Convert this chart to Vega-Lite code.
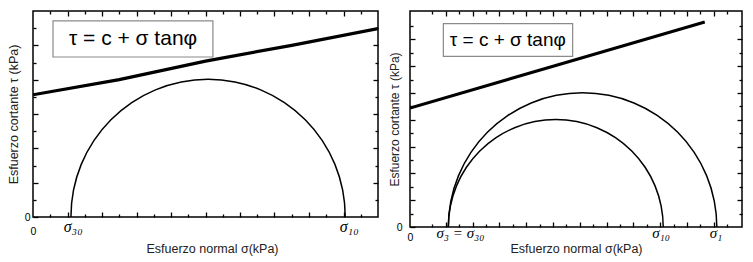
{
  "$schema": "https://vega.github.io/schema/vega-lite/v6.json",
  "background": "white",
  "padding": {"left": 6, "top": 5, "right": 5, "bottom": 5},
  "spacing": 7,
  "config": {
    "view": {"stroke": "black", "strokeWidth": 1.5},
    "font": "Liberation Sans",
    "axis": {"grid": false, "domain": false, "labelColor": "black", "tickColor": "black", "tickWidth": 1.3, "titleColor": "#222", "titleFont": "Liberation Sans", "titleFontWeight": "normal", "titleFontSize": 12.5, "labelOverlap": false, "labelFlush": false}
  },
  "hconcat": [
    {
      "width": 345,
      "height": 206,
      "title": {"text": " ", "fontSize": 4, "offset": 0},
      "layer": [
        {
          "data": {"values": [{"s": 0, "t": 7.12}, {"s": 5, "t": 8.0}, {"s": 10, "t": 9.08}, {"s": 15, "t": 10.0}, {"s": 20, "t": 10.97}]},
          "mark": {"type": "line", "color": "black", "strokeWidth": 3.2, "clip": true},
          "encoding": {
            "x": {"field": "s", "type": "quantitative", "scale": {"domain": [0, 20], "nice": false, "zero": false},
              "axis": {"orient": "bottom", "values": [1,2,3,4,5,6,7,8,9,10,11,12,13,14,15,16,17,18,19], "labels": false, "title": null,
                "tickSize": {"condition": {"test": "datum.value % 2 == 0", "value": -5}, "value": -3}}},
            "y": {"field": "t", "type": "quantitative", "scale": {"domain": [0, 12], "nice": false, "zero": false},
              "axis": {"orient": "left", "values": [0,1,2,3,4,5,6,7,8,9,10,11], "labelExpr": "datum.value == 0 ? '0' : ''", "labelFont": "Liberation Sans", "labelFontSize": 10.5, "labelPadding": 8, "title": "Esfuerzo cortante τ (kPa)", "titlePadding": 4,
                "tickSize": {"condition": {"test": "datum.value % 2 == 0", "value": -5}, "value": -3}}}
          }
        },
        {
          "data": {"values": [{"c": 10.15, "r": 7.95}]},
          "mark": {"type": "arc", "theta": -1.5708, "theta2": 1.5708, "color": "black", "radiusOffset": 0.75, "radius2Offset": -0.75},
          "encoding": {
            "x": {"field": "c", "type": "quantitative", "stack": null,
              "axis": {"orient": "top", "values": [1,2,3,4,5,6,7,8,9,10,11,12,13,14,15,16,17,18,19], "labels": false, "title": null,
                "tickSize": {"condition": {"test": "datum.value % 2 == 0", "value": -5}, "value": -3}}},
            "y": {"datum": 0, "type": "quantitative",
              "axis": {"orient": "right", "values": [1,2,3,4,5,6,7,8,9,10,11], "labels": false, "title": null,
                "tickSize": {"condition": {"test": "datum.value % 2 == 0", "value": -5}, "value": -3}}},
            "radius": {"field": "r", "type": "quantitative", "scale": {"type": "linear", "domain": [0, 20], "range": [0, 345], "zero": true}},
            "radius2": {"field": "r"}
          }
        },
        {
          "data": {"values": [{"box": "ecuación"}]},
          "mark": {"type": "rect", "fill": "white", "stroke": "#8a8a8a", "strokeWidth": 1.2},
          "encoding": {
            "x": {"datum": 1.16, "type": "quantitative",
              "axis": {"orient": "bottom", "values": [0], "ticks": false, "labelFont": "Liberation Sans", "labelFontSize": 10.5, "labelBaseline": "middle", "labelPadding": 14, "title": null}},
            "x2": {"datum": 10.43},
            "y": {"datum": 9.32, "type": "quantitative", "axis": null},
            "y2": {"datum": 11.42}
          }
        },
        {
          "data": {"values": [{"label": "τ = c + σ tanφ"}]},
          "mark": {"type": "text", "font": "Liberation Sans", "fontSize": 21, "color": "black", "baseline": "middle", "align": "center"},
          "encoding": {
            "x": {"datum": 5.8, "type": "quantitative",
              "axis": {"orient": "bottom", "values": [2.3, 18.3], "ticks": false, "labelExpr": "datum.value < 5 ? 'σ₃₀' : 'σ₁₀'", "labelFont": "Liberation Serif", "labelFontStyle": "italic", "labelFontSize": 16, "labelBaseline": "middle", "labelPadding": 9, "title": "Esfuerzo normal σ(kPa)", "titlePadding": 8, "titleX": 179}},
            "y": {"datum": 10.37, "type": "quantitative", "axis": null},
            "text": {"field": "label"}
          }
        }
      ],
      "resolve": {"axis": {"x": "independent", "y": "independent"}}
    },
    {
      "width": 332,
      "height": 216,
      "layer": [
        {
          "data": {"values": [{"s": 0, "t": 8.88}, {"s": 11, "t": 12.09}, {"s": 22, "t": 15.3}]},
          "mark": {"type": "line", "color": "black", "strokeWidth": 3, "clip": true},
          "encoding": {
            "x": {"field": "s", "type": "quantitative", "scale": {"domain": [0, 24.78], "nice": false, "zero": false},
              "axis": {"orient": "bottom", "values": [1.67,2.67,3.67,4.67,5.67,6.67,7.67,8.67,9.67,10.67,11.67,12.67,13.67,14.67,15.67,16.67,17.67,18.67,19.67,20.67,21.67,22.67,23.67], "labels": false, "title": null,
                "tickSize": {"condition": {"test": "round(datum.value - 0.67) % 2 == 0", "value": -5}, "value": -3}}},
            "y": {"field": "t", "type": "quantitative", "scale": {"domain": [0, 16.12], "nice": false, "zero": false},
              "axis": {"orient": "left", "values": [0,1,2,3,4,5,6,7,8,9,10,11,12,13,14,15], "labelExpr": "datum.value == 0 ? '0' : ''", "labelFont": "Liberation Sans", "labelFontSize": 10.5, "labelPadding": 13, "title": "Esfuerzo cortante τ (kPa)", "titleFontSize": 12, "titlePadding": -5,
                "tickSize": {"condition": {"test": "datum.value % 2 == 0", "value": -5}, "value": -3}}}
          }
        },
        {
          "data": {"values": [{"c": 10.88, "r": 8.02}, {"c": 12.88, "r": 10.02}]},
          "mark": {"type": "arc", "theta": -1.5708, "theta2": 1.5708, "color": "black", "radiusOffset": 0.75, "radius2Offset": -0.75},
          "encoding": {
            "x": {"field": "c", "type": "quantitative", "stack": null,
              "axis": {"orient": "top", "values": [1.67,2.67,3.67,4.67,5.67,6.67,7.67,8.67,9.67,10.67,11.67,12.67,13.67,14.67,15.67,16.67,17.67,18.67,19.67,20.67,21.67,22.67,23.67], "labels": false, "title": null,
                "tickSize": {"condition": {"test": "round(datum.value - 0.67) % 2 == 0", "value": -5}, "value": -3}}},
            "y": {"datum": 0, "type": "quantitative",
              "axis": {"orient": "right", "values": [1,2,3,4,5,6,7,8,9,10,11,12,13,14,15], "labels": false, "title": null,
                "tickSize": {"condition": {"test": "datum.value % 2 == 0", "value": -5}, "value": -3}}},
            "radius": {"field": "r", "type": "quantitative", "scale": {"type": "linear", "domain": [0, 24.78], "range": [0, 332], "zero": true}},
            "radius2": {"field": "r"}
          }
        },
        {
          "data": {"values": [{"box": "ecuación"}]},
          "mark": {"type": "rect", "fill": "white", "stroke": "#8a8a8a", "strokeWidth": 1.2},
          "encoding": {
            "x": {"datum": 2.49, "type": "quantitative",
              "axis": {"orient": "bottom", "values": [0], "ticks": false, "labelFont": "Liberation Sans", "labelFontSize": 10.5, "labelBaseline": "middle", "labelPadding": 10, "title": null}},
            "x2": {"datum": 12.14},
            "y": {"datum": 12.74, "type": "quantitative", "axis": null},
            "y2": {"datum": 15.18}
          }
        },
        {
          "data": {"values": [{"label": "τ = c + σ tanφ"}]},
          "mark": {"type": "text", "font": "Liberation Sans", "fontSize": 19, "color": "black", "baseline": "middle", "align": "center"},
          "encoding": {
            "x": {"datum": 7.3, "type": "quantitative",
              "axis": {"orient": "bottom", "values": [3.73, 18.7, 22.8], "ticks": false, "labelExpr": "datum.value < 5 ? 'σ₃ = σ₃₀' : (datum.value < 20 ? 'σ₁₀' : 'σ₁')", "labelFont": "Liberation Serif", "labelFontStyle": "italic", "labelFontSize": 15, "labelBaseline": "middle", "labelPadding": 5, "title": "Esfuerzo normal σ(kPa)", "titlePadding": 2}},
            "y": {"datum": 13.96, "type": "quantitative", "axis": null},
            "text": {"field": "label"}
          }
        }
      ],
      "resolve": {"axis": {"x": "independent", "y": "independent"}}
    }
  ]
}
